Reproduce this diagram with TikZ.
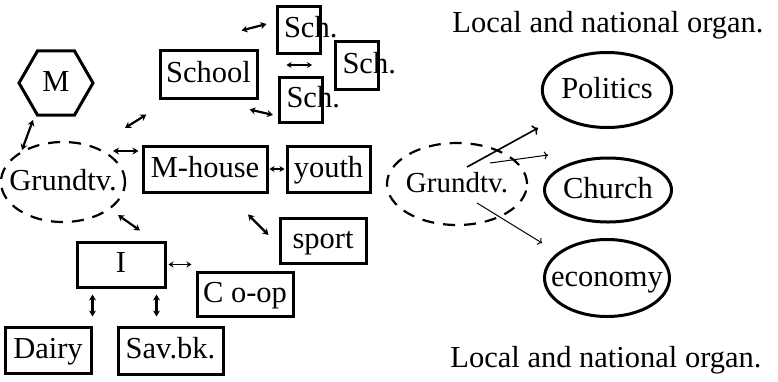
\documentclass[tikz,border=0pt]{standalone}
\usepackage{fontspec}
\setmainfont{Liberation Serif}
\usetikzlibrary{positioning}
\usetikzlibrary{shapes.geometric}
\usetikzlibrary{arrows.meta}

\tikzset{
  box/.style={draw, line width=3pt, inner sep=0pt},
  schbox/.style={draw, line width=3pt, text width=29pt, inner xsep=7pt, inner ysep=0pt, align=left},
  hexa/.style={draw, regular polygon, regular polygon sides=6, line width=3pt, minimum size=74pt, inner sep=0pt},
  org/.style={draw, ellipse, line width=3pt, inner sep=0pt},
  grund/.style={draw, ellipse, line width=2.2pt, dash pattern=on 12pt off 9pt, inner sep=0pt},
  dbl/.style={{Stealth[length=6pt,width=7pt]}-{Stealth[length=6pt,width=7pt]}, line width=2.2pt},
  dblthin/.style={{Stealth[length=5pt,width=6pt]}-{Stealth[length=5pt,width=6pt]}, line width=1.3pt},
  arr/.style={->, line width=1pt}
}

\begin{document}
\begin{tikzpicture}[x=1pt, y=-1pt, font=\fontsize{30.5}{34}\selectfont,
  every node/.append style={text height=23pt, text depth=7pt}]
\useasboundingbox (0,0) rectangle (778,381);

\node[hexa] (M) at (56,83) {M};
\node[grund, minimum width=124pt, minimum height=80pt, inner xsep=-11pt] (gl) at (63,182) {Grundtv.};
\node[box, minimum width=97pt, minimum height=48pt] (sc) at (208.5,74) {School};
\node[schbox, minimum height=47pt] (s1) at (298.5,29.5) {Sch.};
\node[schbox, minimum height=48pt] (s2) at (357,65) {Sch.};
\node[schbox, minimum height=45pt] (s3) at (301,99.5) {Sch.};
\node[box, minimum width=124pt, minimum height=46pt] (mh) at (205,169) {M-house};
\node[box, minimum width=83pt, minimum height=46pt] (yo) at (328.5,169) {youth};
\node[box, minimum width=86pt, minimum height=45pt] (sp) at (323,240.5) {sport};
\node[box, minimum width=88pt, minimum height=45pt] (I) at (121,264.5) {I};
\node[box, minimum width=96pt, minimum height=44pt] (co) at (245,294) {C o-op};
\node[box, minimum width=86pt, minimum height=46pt] (da) at (48,350) {Dairy};
\node[box, minimum width=105pt, minimum height=47pt] (sb) at (170.5,350.5) {Sav.bk.};

\draw[dbl] ([xshift=-23pt,yshift=-37pt]M.center) -- ([xshift=-41pt,yshift=32pt]gl.center);
\draw[dbl] ([xshift=62pt,yshift=54pt]gl.center) -- ([xshift=-12pt,yshift=-15pt]sc.south west);
\draw[dbl] ([xshift=50pt,yshift=31pt]gl.center) -- ([xshift=-3pt,yshift=18pt]mh.west);
\draw[dblthin, shorten <=1pt, shorten >=1pt] (mh.east) -- (yo.west);
\draw[dbl] ([xshift=43pt,yshift=-21pt]mh.south) -- ([xshift=-10pt,yshift=5.5pt]sp.west);
\draw[dbl] ([xshift=55pt,yshift=-33pt]gl.center) -- ([xshift=19pt,yshift=10pt]I.north);
\draw[dblthin, shorten <=2pt, shorten >=4pt] (I.east) -- (I.east -| co.west);
\draw[dbl, shorten <=6pt, shorten >=9pt] (da.north east |- I.south) -- (da.north east);
\draw[dbl, shorten <=6pt, shorten >=9pt] ([xshift=-10pt]I.south east) -- ([xshift=-10pt]I.south east |- sb.north);
\draw[dbl] ([xshift=-17pt,yshift=18pt]sc.north east) -- ([xshift=-9pt,yshift=5.5pt]s1.west);
\draw[dblthin, shorten <=22pt, shorten >=11pt] (s2.west) -- (s2.west -| s1.west);
\draw[dbl] ([xshift=-9pt,yshift=-10pt]sc.south east) -- ([xshift=-5pt,yshift=-15.5pt]s3.west);

\node (top) at (608,24) {Local and national organ.};
\node[grund, minimum width=140pt, minimum height=82pt, inner xsep=-2.5pt, font=\fontsize{29}{32}\selectfont] (gr) at (457,184) {Grundtv.};
\node[org, minimum width=129pt, minimum height=75pt] (po) at (607,90) {Politics};
\node[org, minimum width=127pt, minimum height=64pt] (ch) at (608,190) {Church};
\node[org, minimum width=125pt, minimum height=77pt, inner xsep=-12pt] (ec) at (607,278) {economy};
\node (bot) at (606,359) {Local and national organ.};

\draw[arr, line width=1.6pt] ([xshift=10pt,yshift=17pt]gr.center) -- ([xshift=-69pt,yshift=-38pt]po.center);
\draw[arr] ([xshift=33pt,yshift=21pt]gr.center) -- ([xshift=-60pt,yshift=35pt]ch.center);
\draw[arr] ([xshift=20pt,yshift=-19pt]gr.center) -- ([xshift=-65pt,yshift=35pt]ec.center);
\end{tikzpicture}
\end{document}
